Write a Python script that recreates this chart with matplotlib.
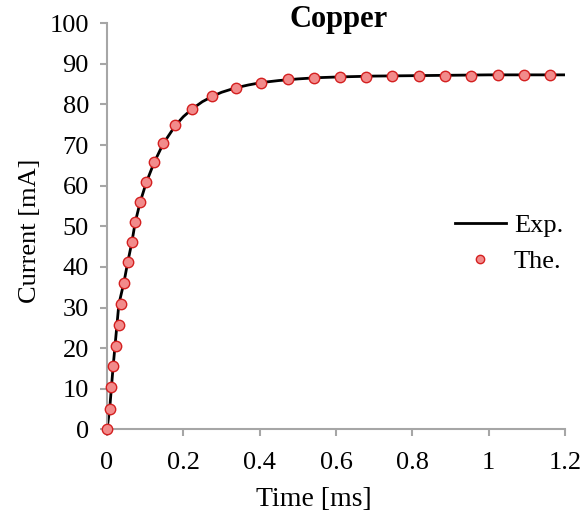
import matplotlib
matplotlib.use("Agg")
import matplotlib.pyplot as plt

# theoretical points (The.)
t_the = [0, 0.007, 0.011, 0.016, 0.024, 0.031, 0.037, 0.044, 0.054, 0.065,
         0.074, 0.087, 0.103, 0.123, 0.147, 0.179, 0.223, 0.276, 0.337, 0.404,
         0.473, 0.542, 0.611, 0.679, 0.748, 0.817, 0.886, 0.955, 1.024, 1.092, 1.161]
i_the = [0, 5.1, 10.3, 15.5, 20.6, 25.7, 30.9, 36.0, 41.1, 46.1,
         51.1, 56.0, 60.9, 65.8, 70.4, 74.9, 78.8, 82.0, 84.1, 85.3,
         86.2, 86.5, 86.7, 86.8, 86.9, 87.0, 87.1, 87.1, 87.2, 87.2, 87.3]

# experimental curve (Exp.)
t_exp = [0, 0.007, 0.016, 0.031, 0.044, 0.054, 0.065, 0.074, 0.087, 0.103,
         0.123, 0.147, 0.179, 0.2, 0.223, 0.25, 0.276, 0.3, 0.337, 0.37, 0.404,
         0.45, 0.5, 0.55, 0.611, 0.7, 0.8, 0.9, 1.0, 1.1, 1.2]
i_exp = [0, 5.0, 15.4, 30.8, 36.0, 41.0, 46.0, 51.0, 56.0, 60.8,
         65.6, 70.3, 74.8, 77.0, 78.9, 80.7, 82.0, 83.0, 84.1, 84.8, 85.4,
         85.9, 86.3, 86.6, 86.8, 87.0, 87.1, 87.2, 87.3, 87.3, 87.3]

plt.rcParams['font.family'] = ['Liberation Serif', 'DejaVu Serif']

fig = plt.figure(figsize=(5.88, 5.25), dpi=100)
ax = fig.add_axes([107/588, 1-429.3/525, (565-107)/588, (429.3-23.3)/525])

ax.plot(t_exp, i_exp, color='black', lw=2, label='Exp.', zorder=2)
ax.plot(t_the, i_the, ls='none', marker='o', ms=7.5, mfc='#f28b8b',
        mec='#d42020', mew=1, label='The.', zorder=3, clip_on=False)

ax.set_xlim(0, 1.2)
ax.set_ylim(0, 100)
ax.set_xticks([0, 0.2, 0.4, 0.6, 0.8, 1, 1.2])
ax.set_xticklabels(['0', '0.2', '0.4', '0.6', '0.8', '1', '1.2'])
ax.set_yticks(range(0, 101, 10))

for s in ['top', 'right']:
    ax.spines[s].set_visible(False)
for s in ['left', 'bottom']:
    ax.spines[s].set_color('#a6a6a6')
    ax.spines[s].set_linewidth(1.5)
ax.tick_params(color='#a6a6a6', width=1.5, length=5, labelsize=19)
ax.tick_params(axis='x', pad=11)
ax.tick_params(axis='y', pad=8)

ax.set_xlabel('Time [ms]', fontsize=20)
ax.set_ylabel('Current [mA]', fontsize=19)
ax.xaxis.set_label_coords(0.452, -0.142)
ax.yaxis.set_label_coords(-0.145, 0.49)
fig.text(339/588, 1-27/525, 'Copper', fontsize=22, fontweight='bold',
         ha='center', va='baseline')

ax.legend(loc='center left', bbox_to_anchor=(0.707, 0.458), frameon=False,
          fontsize=19, markerscale=0.8, handlelength=1.95, handletextpad=0.3)

fig.savefig('out.png', dpi=100)
